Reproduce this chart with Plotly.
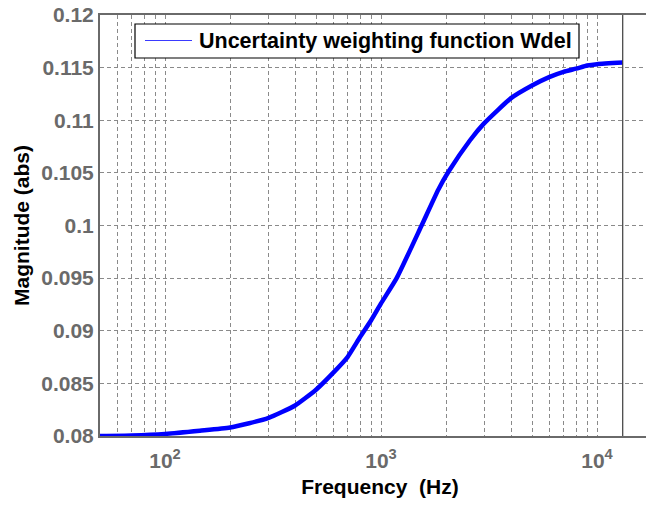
import plotly.graph_objects as go
import math

# ---- data ----
freq_hz = [50, 70, 100, 145, 200, 300, 400, 500, 600, 700, 800, 900, 1000,
           1181, 1541, 1841, 2052, 2583, 3000, 4000, 5000, 6000, 7000,
           8000, 9000, 10000, 13150]
magnitude = [0.0800, 0.08005, 0.0802, 0.0805, 0.0808, 0.0817, 0.0829, 0.0844,
             0.0860, 0.0875, 0.0894, 0.0910, 0.0926, 0.0950, 0.1000, 0.1034,
             0.1051, 0.1081, 0.1097, 0.1121, 0.1133, 0.1141, 0.1146, 0.1149,
             0.1152, 0.11533, 0.11548]
series_name = "Uncertainty weighting function Wdel"

x_grid_vals = [50, 60, 70, 80, 90, 100, 200, 300, 400, 500, 600, 700, 800, 900,
               1000, 2000, 3000, 4000, 5000, 6000, 7000, 8000, 9000, 10000, 20000]
x_tick_text = {100: "10<sup>2</sup>", 1000: "10<sup>3</sup>", 10000: "10<sup>4</sup>"}
y_ticks = [0.08, 0.085, 0.09, 0.095, 0.1, 0.105, 0.11, 0.115, 0.12]
y_tick_text = ["0.08", "0.085", "0.09", "0.095", "0.1", "0.105", "0.11", "0.115", "0.12"]
end_marker_hz = 13150

FONT = "Liberation Sans, Arial, Helvetica, sans-serif"
# page body has an 8px default margin; compensate so the plot lands where the reference has it
OFF = 8
W, H = 654 - OFF, 506 - OFF
L, R, T, B = 100 - OFF, 0, 15 - OFF, 70
pw, ph = W - L - R, H - T - B

fig = go.Figure()
fig.add_trace(go.Scatter(x=freq_hz, y=magnitude, mode="lines",
                         line=dict(color="#0000ff", width=4.5, shape="spline", smoothing=0.5),
                         name=series_name, showlegend=False))
# vertical end line
fig.add_trace(go.Scatter(x=[end_marker_hz, end_marker_hz], y=[y_ticks[0], y_ticks[-1]],
                         mode="lines", line=dict(color="#3c3c3c", width=1.2),
                         showlegend=False, hoverinfo="skip"))

def px2paper_x(px):
    return (px - OFF - L) / pw

def px2paper_y(py):
    return (H - B - (py - OFF)) / ph

# manual legend box
shapes = [
    dict(type="rect", xref="paper", yref="paper",
         x0=px2paper_x(135), x1=px2paper_x(579), y0=px2paper_y(58), y1=px2paper_y(24),
         line=dict(color="black", width=1.2), fillcolor="white", layer="above"),
    dict(type="line", xref="paper", yref="paper",
         x0=px2paper_x(145), x1=px2paper_x(192), y0=px2paper_y(40.5), y1=px2paper_y(40.5),
         line=dict(color="#3a3aff", width=1.2), layer="above"),
]
annotations = [
    dict(text=series_name, xref="paper", yref="paper",
         x=px2paper_x(197), y=px2paper_y(41), xanchor="left", yanchor="middle",
         showarrow=False, font=dict(family=FONT, size=21.5, color="black", weight="bold")),
]

fig.update_layout(
    width=W, height=H,
    margin=dict(l=L, r=R, t=T, b=B, autoexpand=False),
    paper_bgcolor="white", plot_bgcolor="white",
    shapes=shapes, annotations=annotations,
    showlegend=False,
    font=dict(family=FONT),
)

fig.update_xaxes(
    type="log", automargin=False,
    range=[math.log10(50), math.log10(50) + pw / 216.0],
    tickvals=x_grid_vals,
    ticktext=[x_tick_text.get(v, "") for v in x_grid_vals],
    tickfont=dict(family=FONT, size=21, color="#6a6a6a", weight="bold"),
    ticklabelstandoff=5, ticklabeloverflow="allow",
    showgrid=True, gridcolor="#8a8a8a", gridwidth=1, griddash="4px,3px",
    showline=True, linecolor="#6a6a6a", linewidth=2, mirror=True,
    ticks="", zeroline=False,
    title=dict(text="&nbsp;Frequency  (Hz)", standoff=8,
               font=dict(family=FONT, size=21, color="black", weight="bold")),
)
fig.update_yaxes(
    automargin=False,
    range=[0.08, 0.12],
    tickvals=y_ticks, ticktext=y_tick_text,
    tickfont=dict(family=FONT, size=21, color="#6a6a6a", weight="bold"),
    ticklabeloverflow="allow",
    showgrid=True, gridcolor="#8a8a8a", gridwidth=1, griddash="4px,3px",
    showline=True, linecolor="#6a6a6a", linewidth=2, mirror=False,
    ticks="", zeroline=False,
    title=dict(text="Magnitude (abs)", standoff=6,
               font=dict(family=FONT, size=21, color="black", weight="bold")),
)

fig.write_html("out.html")
